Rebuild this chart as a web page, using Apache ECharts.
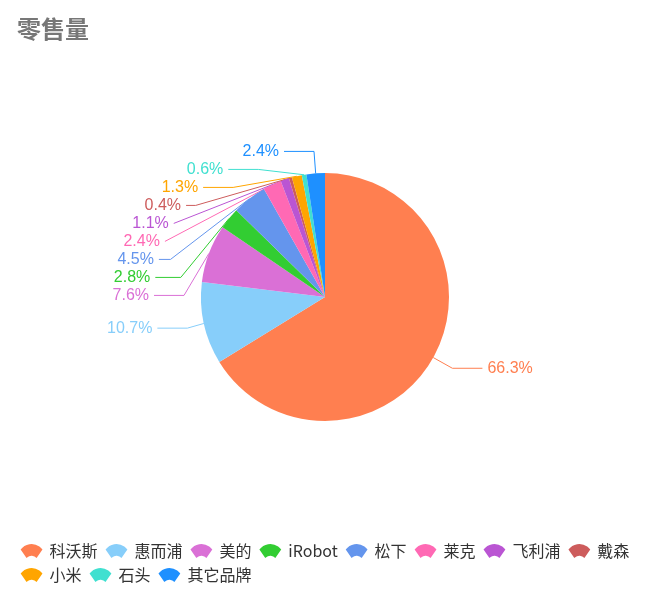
<!DOCTYPE html>
<html><head><meta charset="utf-8">
<script src="https://cdn.jsdelivr.net/npm/echarts@6/dist/echarts.min.js"></script>
<style>html,body{margin:0;padding:0;background:#fff}#c{width:650px;height:604px}</style>
</head><body><div id="c"></div>
<script>
const categories = ['科沃斯','惠而浦','美的','iRobot','松下','莱克','飞利浦','戴森','小米','石头','其它品牌'];
const values = [66.3,10.7,7.6,2.8,4.5,2.4,1.1,0.4,1.3,0.6,2.4];
const colors = ['#FF7F50','#87CEFA','#DA70D6','#32CD32','#6495ED','#FF69B4','#BA55D3','#CD5C5C','#FFA500','#40E0D0','#1E90FF'];
const chart = echarts.init(document.getElementById('c'));
chart.setOption({
  color: colors,
  title: {text:'零售量', left:12, top:12, textStyle:{fontSize:24, fontWeight:'bold', color:'#777', fontFamily:'Noto Sans CJK SC'}},
  legend: {
    bottom: 16, left: 'center', width: 610, itemGap: 8, itemWidth: 26, itemHeight: 14,
    icon: 'path://M0,6 A16,16 0 0 1 26,6 L19,16 A8,8 0 0 0 7,16 Z',
    textStyle: {fontSize: 16, color: '#333', fontFamily:'Noto Sans CJK SC'},
    data: categories
  },
  series: [{
    type: 'pie', center: [325, 297], radius: [0, 124], startAngle: 90, clockwise: true,
    label: {formatter: p => p.value.toFixed(1) + '%', fontSize: 16, color: 'inherit'},
    labelLine: {length: 22, length2: 30},
    data: categories.map((n,i)=>({name:n, value:values[i]}))
  }]
});
</script></body></html>
